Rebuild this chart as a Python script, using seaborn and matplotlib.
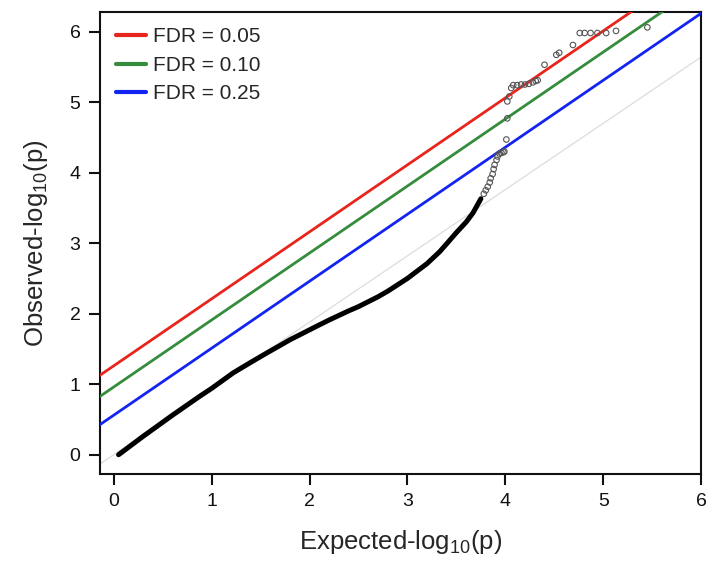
import numpy as np
import pandas as pd
import matplotlib
matplotlib.use("Agg")
import matplotlib.pyplot as plt
import seaborn as sns

# dense part of the QQ curve (expected vs observed -log10 p)
exp_dense = [0.05, 0.30, 0.60, 0.88, 1.00, 1.22, 1.40, 1.56, 1.70, 1.80, 1.90, 2.07, 2.20,
             2.40, 2.50, 2.70, 2.80, 3.00, 3.20, 3.33, 3.40, 3.50, 3.60, 3.67, 3.75]
obs_dense = [0.00, 0.26, 0.56, 0.83, 0.94, 1.16, 1.31, 1.44, 1.55, 1.63, 1.70, 1.82, 1.91,
             2.04, 2.10, 2.24, 2.32, 2.50, 2.71, 2.88, 2.99, 3.15, 3.30, 3.43, 3.63]

# sparse tail points drawn as open circles
exp_tail = [3.78, 3.80, 3.82, 3.84, 3.85, 3.87, 3.88, 3.89, 3.91, 3.92, 3.94, 3.96, 3.98, 3.99,
            4.01, 4.02, 4.02, 4.04, 4.06, 4.08, 4.12, 4.16, 4.20, 4.24, 4.28, 4.31, 4.33,
            4.40, 4.52, 4.55, 4.69, 4.76, 4.81, 4.87, 4.94, 5.03, 5.13, 5.45]
obs_tail = [3.70, 3.75, 3.80, 3.86, 3.92, 3.98, 4.05, 4.11, 4.18, 4.23, 4.27, 4.28, 4.29, 4.30,
            4.47, 4.77, 5.01, 5.08, 5.20, 5.24, 5.24, 5.25, 5.25, 5.26, 5.28, 5.30, 5.31,
            5.53, 5.67, 5.70, 5.81, 5.98, 5.98, 5.98, 5.98, 5.98, 6.01, 6.06]

# FDR threshold lines: y = slope * x + intercept
fdr_labels = ["FDR = 0.05", "FDR = 0.10", "FDR = 0.25"]
fdr_intercepts = [1.26, 0.96, 0.56]
fdr_slope = 0.95
fdr_colors = ["#e8251c", "#358c3c", "#1424f0"]
null_slope = 0.94

xlim = (-0.14, 6.0)
ylim = (-0.27, 6.28)

sns.set_style("ticks")
plt.rcParams["font.family"] = ["Liberation Sans", "DejaVu Sans"]

fig = plt.figure(figsize=(7.09, 5.64), dpi=100)
ax = fig.add_axes([0.141, 0.160, 0.848, 0.819])

# null diagonal
xs = np.array(xlim)
ax.plot(xs, null_slope * xs, color="#dcdcdc", lw=0.9, zorder=1)

# FDR lines
rows = []
for lab, b in zip(fdr_labels, fdr_intercepts):
    for x in xlim:
        rows.append({"x": x, "y": fdr_slope * x + b, "FDR": lab})
fdr_df = pd.DataFrame(rows)
sns.lineplot(data=fdr_df, x="x", y="y", hue="FDR", palette=fdr_colors, lw=2.0, ax=ax, zorder=3)

# observed QQ curve
dense_df = pd.DataFrame({"x": exp_dense, "y": obs_dense})
sns.lineplot(data=dense_df, x="x", y="y", color="black", lw=3.6, ax=ax, zorder=4,
             solid_capstyle="round", solid_joinstyle="round", legend=False)
tail_df = pd.DataFrame({"x": exp_tail, "y": obs_tail})
sns.scatterplot(data=tail_df, x="x", y="y", s=16, facecolor="none", edgecolor="#555555",
                linewidth=0.8, ax=ax, zorder=5, legend=False)

ax.set_xlim(xlim)
ax.set_ylim(ylim)
ax.set_xticks(range(0, 7))
ax.set_yticks(range(0, 7))
ax.tick_params(direction="out", length=8, width=1.5, labelsize=14, pad=6, colors="#111111")
for s in ax.spines.values():
    s.set_linewidth(1.5)
    s.set_color("#111111")

ax.set_xlabel("Expected-log$_{\\mathregular{10}}$(p)", fontsize=18.5, labelpad=13)
ax.set_ylabel("Observed-log$_{\\mathregular{10}}$(p)", fontsize=18.5, labelpad=14)

leg = ax.legend(loc="upper left", frameon=False, fontsize=15, handlelength=1.45,
                handletextpad=0.35, labelspacing=0.45, borderaxespad=0.35,
                borderpad=0.4)
for h in leg.get_lines():
    h.set_linewidth(3.0)

fig.savefig("out.png", dpi=100)
